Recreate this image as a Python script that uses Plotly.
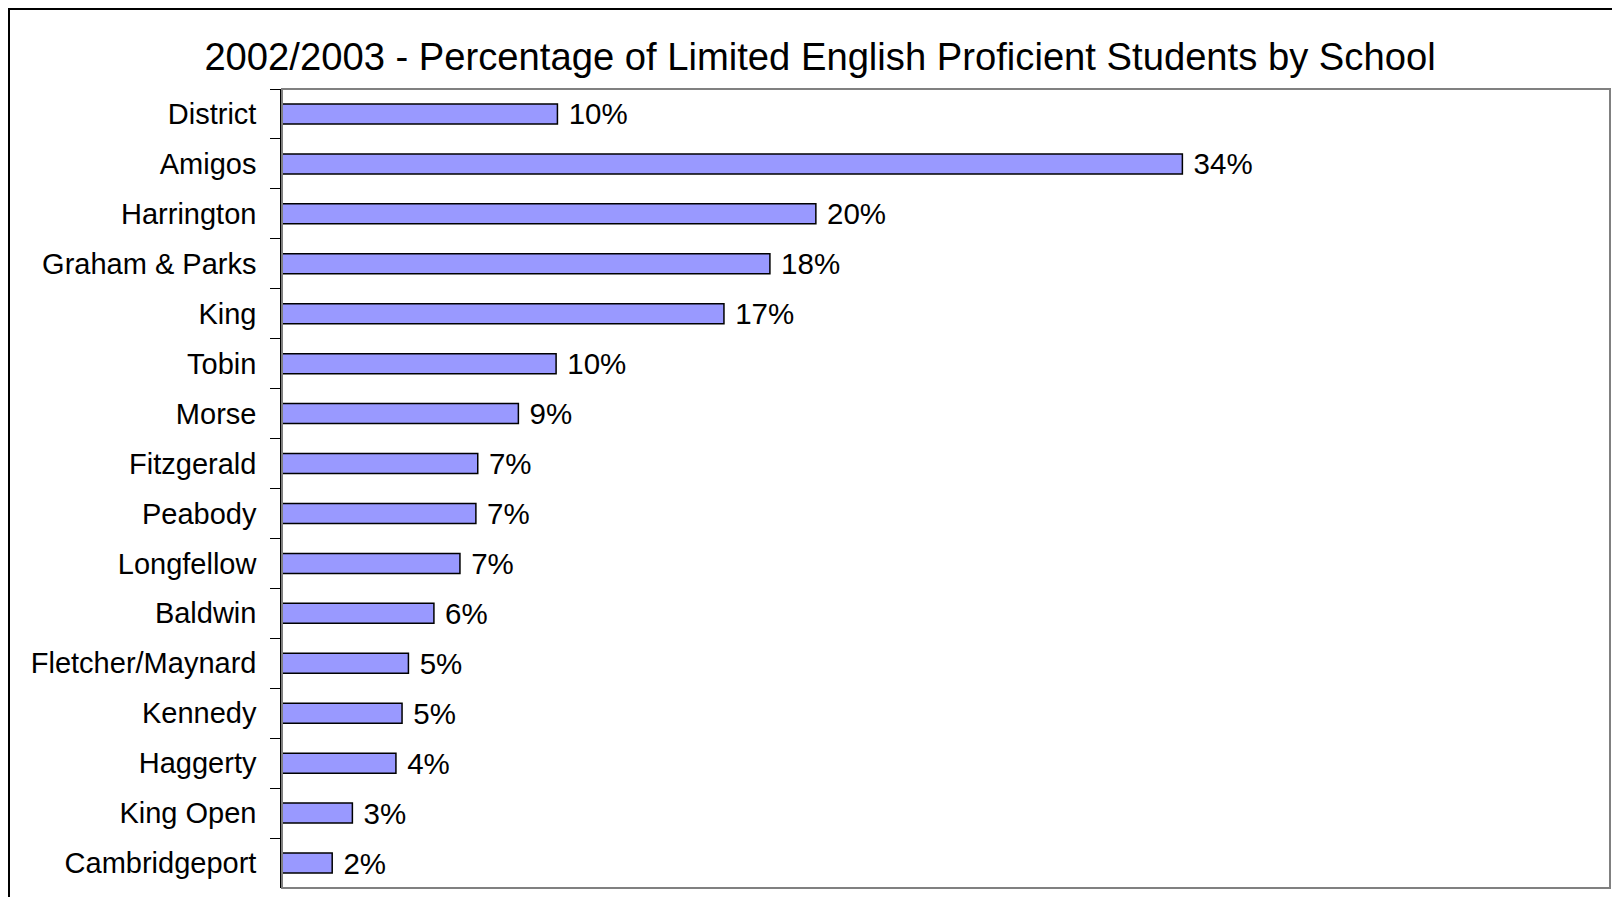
import plotly.graph_objects as go

schools = ["District", "Amigos", "Harrington", "Graham & Parks", "King", "Tobin",
           "Morse", "Fitzgerald", "Peabody", "Longfellow", "Baldwin",
           "Fletcher/Maynard", "Kennedy", "Haggerty", "King Open", "Cambridgeport"]
lep_share = [0.1037, 0.339, 0.201, 0.1837, 0.1664, 0.1032,
             0.089, 0.0737, 0.073, 0.067, 0.0572,
             0.0476, 0.0452, 0.0429, 0.0265, 0.0189]
title_text = "2002/2003 - Percentage of Limited English Proficient Students by School"

# page body has an 8px margin; figure sized to fit inside the window
W, H = 1604, 889
L, R, T, B = 274, 2, 81, 9
pw, ph = W - L - R, H - T - B

fig = go.Figure()
fig.add_trace(go.Bar(
    x=lep_share, y=schools, orientation="h",
    marker=dict(color="#9999FF", line=dict(color="#000000", width=1.5)),
    texttemplate=" %{x:.0%}", textposition="outside", cliponaxis=False,
    constraintext="none",
    textfont=dict(family="Liberation Sans, Arial", size=29.5, color="#000000"),
))

fig.update_layout(
    width=W, height=H,
    margin=dict(l=L, r=R, t=T, b=B),
    paper_bgcolor="white", plot_bgcolor="white",
    showlegend=False, bargap=0.6,
    font=dict(family="Liberation Sans, Arial", color="#000000"),
    title=dict(text=title_text, x=812 / W, xanchor="center",
               y=1 - 49 / H, yanchor="middle",
               font=dict(family="Liberation Sans, Arial", size=38.2, color="#000000")),
    xaxis=dict(range=[0, 0.5], showticklabels=False, showgrid=False, zeroline=False,
               ticks="", showline=False, fixedrange=True),
    yaxis=dict(categoryorder="array", categoryarray=schools, autorange="reversed",
               showline=True, linecolor="#000000", linewidth=1.5,
               ticks="outside", ticklen=10, tickcolor="#000000", tickwidth=1.2,
               tickson="boundaries", showgrid=False,
               tickfont=dict(family="Liberation Sans, Arial", size=29, color="#000000"),
               ticklabelstandoff=18),
    shapes=[
        dict(type="rect", xref="paper", yref="paper", x0=0, x1=1, y0=0, y1=1,
             line=dict(color="#808080", width=2), layer="above"),
        dict(type="rect", xref="paper", yref="paper",
             x0=(1 - L) / pw, x1=(W + 20 - L) / pw,
             y0=-(40) / ph, y1=1 + (T - 1) / ph,
             line=dict(color="#000000", width=2), layer="below"),
    ],
)

fig.write_html("out.html")
